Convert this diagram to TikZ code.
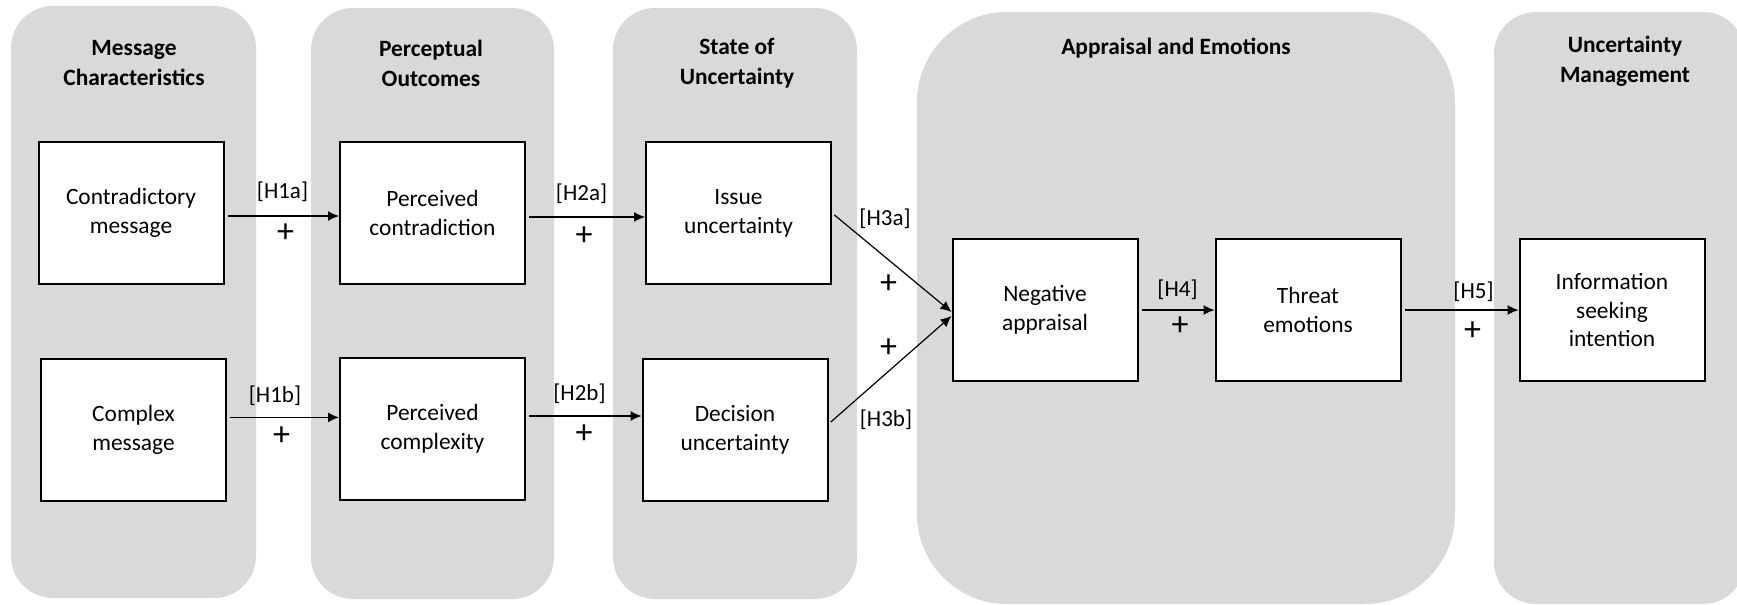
\documentclass[tikz,border=0pt]{standalone}
\usepackage{fontspec}
\setmainfont{Carlito}
\usetikzlibrary{arrows.meta}
\definecolor{panelgray}{HTML}{D9D9D9}

\begin{document}
\begin{tikzpicture}[x=0.5pt,y=-0.5pt,
    panel/.style={fill=panelgray, rounded corners=21pt},
    box/.style={draw, line width=1pt, fill=white, minimum width=92.5pt, minimum height=71pt,
        align=center, inner sep=0pt, font=\fontsize{11.7}{14.4}\selectfont},
    title/.style={align=center, font=\fontsize{11.7}{15}\selectfont\bfseries},
    hyp/.style={font=\fontsize{11.5}{13}\selectfont},
    sign/.style={font=\fontsize{17}{17}\selectfont, inner sep=0pt},
    link/.style={-{Latex[length=5.5pt,width=5pt]}, line width=0.6pt, shorten <=1.5pt}]
    \useasboundingbox (0,0) rectangle (1737,605);
    \clip (0,0) rectangle (1737,605);

    % Draw Panels
    \fill[panel] (11,6) rectangle (256,598);
    \fill[panel] (311,8) rectangle (554,599);
    \fill[panel] (613,8) rectangle (857,599);
    \fill[panel, rounded corners=45pt] (917,12) rectangle (1455,604);
    \fill[panel] (1494,12) rectangle (1745,604);

    % Panel Headers
    \node[title] (t1) at (134,63) {Message\\Characteristics};
    \node[title] (t2) at (431,63) {Perceptual\\Outcomes};
    \node[title] (t3) at (737,63) {State of\\Uncertainty};
    \node[title] (t4) at (1176,48) {Appraisal and Emotions};
    \node[title] (t5) at (1625,61) {Uncertainty\\Management};

    % Boxes
    % -- top row
    \node[box] (cm) at (131,213) {Contradictory\\message};
    \node[box] (pcd) at (432.5,213) {Perceived\\contradiction};
    \node[box] (iu) at (738.5,213) {Issue\\uncertainty};
    % -- bottom row
    \node[box] (cx) at (133.5,430) {Complex\\message};
    \node[box] (pcx) at (432.5,429) {Perceived\\complexity};
    \node[box] (du) at (735,430) {Decision\\uncertainty};
    % -- middle row
    \node[box] (na) at (1045,310) {Negative\\appraisal};
    \node[box] (te) at (1308,310) {Threat\\emotions};
    \node[box] (is) at (1612,310) {Information\\seeking\\intention};

    % Arrows
    \draw[link] ([yshift=-1.5pt]cm.east) -- ([yshift=-1.5pt]cm.east -| pcd.west);
    \draw[link] ([yshift=6.3pt]cx.east) -- ([yshift=6.3pt]cx.east -| pcx.west);
    \draw[link] ([yshift=-2pt]pcd.east) -- ([yshift=-2pt]pcd.east -| iu.west);
    \draw[link] ([yshift=6.5pt]pcx.east) -- ([yshift=6.5pt]pcx.east -| du.west);
    \draw[link] (iu.east) -- ([yshift=-1pt]na.west);
    \draw[link] ([yshift=3pt]du.east) -- ([yshift=-3pt]na.west);
    \draw[link] (na.east) -- (te.west);
    \draw[link] (te.east) -- (te.east -| is.west);

    % Hypothesis Labels
    \node[hyp] (l1a) at (282.5,192) {[H1a]};
    \node[sign] (s1a) at (285.5,233) {+};
    \node[hyp] (l1b) at (275,395.5) {[H1b]};
    \node[sign] (s1b) at (281.5,436) {+};
    \node[hyp] (l2a) at (581.5,194) {[H2a]};
    \node[sign] (s2a) at (584,236.5) {+};
    \node[hyp] (l2b) at (579.5,393.5) {[H2b]};
    \node[sign] (s2b) at (584,434) {+};
    \node[hyp] (l3a) at (885,219) {[H3a]};
    \node[sign] (s3a) at (888.5,284) {+};
    \node[sign] (s3b) at (888.5,348.5) {+};
    \node[hyp] (l3b) at (886,420) {[H3b]};
    \node[hyp] (l4) at (1177.5,290) {[H4]};
    \node[sign] (s4) at (1180,326.5) {+};
    \node[hyp] (l5) at (1473.5,291.5) {[H5]};
    \node[sign] (s5) at (1472.5,331) {+};
\end{tikzpicture}
\end{document}
